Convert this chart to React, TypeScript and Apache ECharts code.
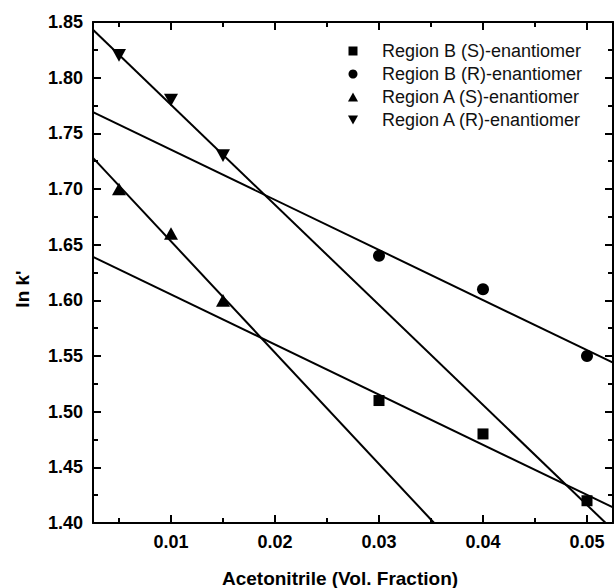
import React, { useEffect, useRef } from "react";
import * as echarts from "echarts";

// Measured data points (acetonitrile vol. fraction, ln k')
const regionBS: [number, number][] = [
  [0.03, 1.51],
  [0.04, 1.48],
  [0.05, 1.42],
];
const regionBR: [number, number][] = [
  [0.03, 1.64],
  [0.04, 1.61],
  [0.05, 1.55],
];
const regionAS: [number, number][] = [
  [0.005, 1.7],
  [0.01, 1.66],
  [0.015, 1.6],
];
const regionAR: [number, number][] = [
  [0.005, 1.82],
  [0.01, 1.78],
  [0.015, 1.73],
];

// Linear fit lines (end points)
const fitBS: [number, number][] = [
  [0.0025, 1.639],
  [0.0525, 1.414],
];
const fitBR: [number, number][] = [
  [0.0025, 1.769],
  [0.0525, 1.544],
];
const fitAS: [number, number][] = [
  [0.0025, 1.728],
  [0.0353, 1.4],
];
const fitAR: [number, number][] = [
  [0.0025, 1.843],
  [0.0518, 1.4],
];

const seriesNames = [
  "Region B (S)-enantiomer",
  "Region B (R)-enantiomer",
  "Region A (S)-enantiomer",
  "Region A (R)-enantiomer",
];

const xMajorTicks = [0.01, 0.02, 0.03, 0.04, 0.05];
const xMinorTicks = [0.005, 0.015, 0.025, 0.035, 0.045];
const xMin = 0.0025;
const xMax = 0.0525;
const yMin = 1.4;
const yMax = 1.85;
const yStep = 0.05;

const SQUARE = "path://M0,0 L10,0 L10,10 L0,10 Z";
const TRI_UP = "path://M5,0 L10,9 L0,9 Z";
const TRI_DOWN = "path://M0,0 L10,0 L5,9 Z";

export default function App() {
  const ref = useRef<HTMLDivElement>(null);

  useEffect(() => {
    document.body.style.margin = "0";
    if (!ref.current) return;
    const chart = echarts.init(ref.current, undefined, { renderer: "svg" });
    const font = "'Liberation Sans', Arial, sans-serif";
    const black = "#000";

    const baseX = {
      type: "value" as const,
      min: xMin,
      max: xMax,
      splitLine: { show: false },
    };
    const baseY = {
      type: "value" as const,
      min: yMin,
      max: yMax,
      interval: yStep,
      splitLine: { show: false },
    };

    const scatterBase = {
      type: "scatter" as const,
      xAxisIndex: 0,
      yAxisIndex: 0,
      symbolKeepAspect: true,
      itemStyle: { color: black, opacity: 1 },
      z: 5,
    };
    const lineBase = {
      type: "line" as const,
      xAxisIndex: 0,
      yAxisIndex: 0,
      symbol: "none",
      lineStyle: { color: black, width: 2 },
      silent: true,
      z: 3,
    };

    chart.setOption({
      animation: false,
      backgroundColor: "#fff",
      grid: { left: 93, right: 2, top: 22, bottom: 65, containLabel: false },
      xAxis: [
        {
          ...baseX,
          position: "bottom",
          axisLine: { show: true, lineStyle: { color: black, width: 2 } },
          axisTick: {
            show: true,
            inside: true,
            length: 8,
            lineStyle: { color: black, width: 2 },
            customValues: xMajorTicks,
          },
          axisLabel: {
            show: true,
            customValues: xMajorTicks,
            formatter: (v: number) => v.toFixed(2),
            color: black,
            fontFamily: font,
            fontWeight: "bold",
            fontSize: 18,
            margin: 10,
          },
        },
        {
          ...baseX,
          position: "bottom",
          axisLine: { show: false },
          axisTick: {
            show: true,
            inside: true,
            length: 5,
            lineStyle: { color: black, width: 2 },
            customValues: xMinorTicks,
          },
          axisLabel: { show: false },
        },
        {
          ...baseX,
          position: "top",
          axisLine: { show: true, lineStyle: { color: black, width: 2 } },
          axisTick: {
            show: true,
            inside: true,
            length: 8,
            lineStyle: { color: black, width: 2 },
            customValues: xMajorTicks,
          },
          axisLabel: { show: false },
        },
        {
          ...baseX,
          position: "top",
          axisLine: { show: false },
          axisTick: {
            show: true,
            inside: true,
            length: 5,
            lineStyle: { color: black, width: 2 },
            customValues: xMinorTicks,
          },
          axisLabel: { show: false },
        },
      ],
      yAxis: [
        {
          ...baseY,
          position: "left",
          axisLine: { show: true, lineStyle: { color: black, width: 2 } },
          axisTick: {
            show: true,
            inside: true,
            length: 8,
            lineStyle: { color: black, width: 2 },
          },
          minorTick: {
            show: true,
            splitNumber: 2,
            length: 5,
            lineStyle: { color: black, width: 2 },
          },
          axisLabel: {
            show: true,
            formatter: (v: number) => v.toFixed(2),
            color: black,
            fontFamily: font,
            fontWeight: "bold",
            fontSize: 18,
            margin: 10,
          },
        },
        {
          ...baseY,
          position: "right",
          axisLine: { show: true, lineStyle: { color: black, width: 2 } },
          axisTick: {
            show: true,
            inside: true,
            length: 8,
            lineStyle: { color: black, width: 2 },
          },
          minorTick: {
            show: true,
            splitNumber: 2,
            length: 5,
            lineStyle: { color: black, width: 2 },
          },
          axisLabel: { show: false },
        },
      ],
      legend: {
        data: seriesNames,
        orient: "vertical",
        left: 348,
        top: 42,
        itemWidth: 48,
        itemHeight: 9,
        itemGap: 5,
        padding: 0,
        selectedMode: false,
        textStyle: {
          color: "#111",
          fontFamily: font,
          fontSize: 18,
          lineHeight: 18,
        },
      },
      series: [
        { ...scatterBase, name: seriesNames[0], symbol: SQUARE, symbolSize: 11, data: regionBS },
        { ...scatterBase, name: seriesNames[1], symbol: "circle", symbolSize: 12, data: regionBR },
        { ...scatterBase, name: seriesNames[2], symbol: TRI_UP, symbolSize: 14, data: regionAS },
        { ...scatterBase, name: seriesNames[3], symbol: TRI_DOWN, symbolSize: 14, data: regionAR },
        { ...lineBase, name: "fitBS", data: fitBS },
        { ...lineBase, name: "fitBR", data: fitBR },
        { ...lineBase, name: "fitAS", data: fitAS },
        { ...lineBase, name: "fitAR", data: fitAR },
      ],
      graphic: [
        {
          type: "text",
          x: 340,
          y: 578,
          style: {
            text: "Acetonitrile (Vol. Fraction)",
            fill: black,
            font: `bold 19px ${font}`,
            align: "center",
            verticalAlign: "middle",
          },
        },
        {
          type: "text",
          x: 22,
          y: 289,
          rotation: Math.PI / 2,
          style: {
            text: "ln k'",
            fill: black,
            font: `bold 19px ${font}`,
            align: "center",
            verticalAlign: "middle",
          },
        },
      ],
    });

    return () => chart.dispose();
  }, []);

  return <div ref={ref} style={{ width: 615, height: 588 }} />;
}
